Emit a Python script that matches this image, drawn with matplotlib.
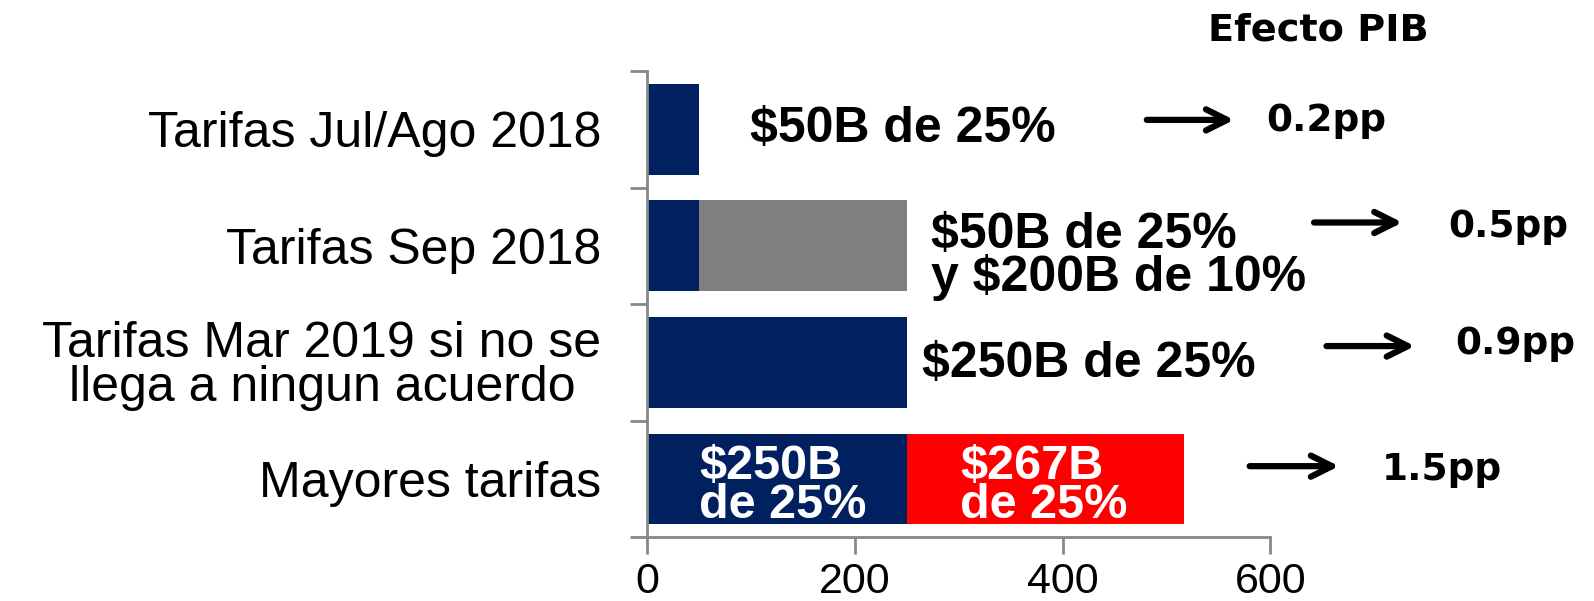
import numpy as np
import matplotlib
matplotlib.use('Agg')
import matplotlib.pyplot as plt

colors = {
    0: '#002060',
    1: '#808080',
    2: '#ff0000'
}

categorias = ['Tarifas Jul/Ago 2018', 'Tarifas Sep 2018',
              'Tarifas Mar 2019 si no se\nllega a ningun acuerdo', 'Mayores tarifas']
tramo_25 = [50, 50, 250, 250]  # $B al 25%
tramo_10 = [0, 200, 0, 0]  # $B al 10%
tramo_nuevo = [0, 0, 0, 267]  # $B adicionales al 25%
etiquetas = [r'\$50B de 25%', '\\$50B de 25%\ny \\$200B de 10%', r'\$250B de 25%']
etiquetas_dentro = ['\\$250B\nde 25%', '\\$267B\nde 25%']
efecto_pib = ['0.2pp', '0.5pp', '0.9pp', '1.5pp']
x_ticks = [0, 200, 400, 600]


def barras(y):
    plt.barh(y, tramo_25, height=0.78, color=colors[0])
    plt.barh(y, tramo_10, height=0.78, left=tramo_25, color=colors[1])
    izq = np.array(tramo_25) + np.array(tramo_10)
    plt.barh(y, tramo_nuevo, height=0.78, left=izq, color=colors[2])


def ejes(y):
    ax = plt.gca()
    plt.xlim(0, 600)
    plt.ylim(3.5, -0.5)
    plt.xticks(x_ticks, fontsize=31)
    plt.yticks(y, categorias, fontsize=36)
    for lab in ax.get_yticklabels():
        lab.set_multialignment('center')
        lab.set_linespacing(0.93)
    ax.set_yticks(np.arange(-0.5, 4, 1), minor=True)
    ax.tick_params(axis='y', which='major', length=0, pad=33)
    ax.tick_params(axis='y', which='minor', length=12, width=2, color='#888888')
    ax.tick_params(axis='x', length=12, width=2, color='#888888', pad=6)
    ax.spines['top'].set_visible(False)
    ax.spines['right'].set_visible(False)
    ax.spines['left'].set_color('#888888')
    ax.spines['bottom'].set_color('#888888')
    ax.spines['left'].set_linewidth(2)
    ax.spines['bottom'].set_linewidth(2)


if __name__ == '__main__':
    y = np.arange(len(categorias))
    plt.rcParams['font.family'] = 'Liberation Sans'
    plt.figure(figsize=(15.94, 6.01), dpi=100)
    plt.subplots_adjust(left=0.406, right=0.797, top=0.882, bottom=0.106)

    barras(y)
    ejes(y)

    # textos junto a las barras
    x_txt = [99, 273, 265]
    y_txt = [0.0, 1.09, 2.01]
    for i in range(len(etiquetas)):
        plt.text(x_txt[i], y_txt[i], etiquetas[i], fontsize=36, fontweight='bold',
                 ha='left', va='center', linespacing=0.9)
    # textos dentro de la ultima barra
    x_in = [50, 301]
    for i in range(len(etiquetas_dentro)):
        plt.text(x_in[i], 3.06, etiquetas_dentro[i], fontsize=35, fontweight='bold',
                 color='white', ha='left', va='center', linespacing=0.85)

    # flechas y efecto PIB
    x0_fl = [481, 642, 654, 580]
    x1_fl = [565, 727, 739, 666]
    y_fl = [-0.08, 0.80, 1.86, 2.89]
    x_pp = [596, 771, 778, 707]
    y_pp = [-0.07, 0.84, 1.84, 2.92]
    for i in range(len(efecto_pib)):
        plt.annotate('', xy=(x1_fl[i], y_fl[i]), xytext=(x0_fl[i], y_fl[i]),
                     arrowprops=dict(arrowstyle='->', color='black', lw=4.5,
                                     mutation_scale=38, shrinkA=0, shrinkB=0),
                     annotation_clip=False)
        plt.text(x_pp[i], y_pp[i], efecto_pib[i], fontsize=27, fontweight='bold',
                 family='DejaVu Sans', ha='left', va='center', clip_on=False)
    plt.figtext(0.827, 0.949, 'Efecto PIB', fontsize=27.5, fontweight='bold',
                family='DejaVu Sans', ha='center', va='center')

    plt.savefig('out.png', dpi=100)
